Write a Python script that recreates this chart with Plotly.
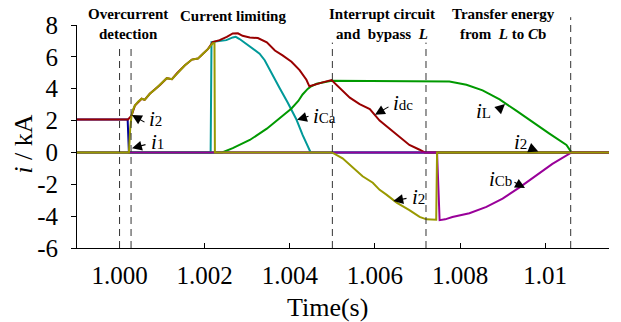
import plotly.graph_objects as go

# ---------------- data (time in s, current in kA) ----------------
t_i1 = [0.999, 1.00019, 1.00022, 1.0115]
v_i1 = [2.07, 2.07, 0.0, 0.0]

t_ca = [0.999, 1.00214, 1.00216, 1.00235, 1.00251, 1.00266, 1.00273, 1.00282, 1.00298,
        1.00313, 1.00329, 1.00341, 1.00357, 1.00376, 1.00395, 1.00415, 1.0043, 1.00447,
        1.00449, 1.0115]
v_ca = [0.0, 0.0, 6.93, 6.97, 7.05, 7.22, 7.26, 7.12, 6.81,
        6.5, 6.2, 5.79, 4.97, 4.05, 3.13, 2.1, 1.1, 0.18,
        0.0, 0.0]

t_L = [0.999, 1.00241, 1.00266, 1.00306, 1.00346, 1.00383, 1.00404, 1.0042, 1.0043,
       1.00442, 1.00449, 1.00463, 1.00477, 1.00498, 1.00775, 1.00815, 1.00853, 1.00893,
       1.00932, 1.0097, 1.0101, 1.0105, 1.01062, 1.0115]
v_L = [0.0, 0.0, 0.27, 0.78, 1.49, 2.31, 2.76, 3.23, 3.64,
       3.99, 4.13, 4.31, 4.4, 4.5, 4.45, 4.25, 3.9, 3.33,
       2.62, 1.9, 1.18, 0.47, 0.0, 0.0]

t_dc = [0.999, 1.0002, 1.00028, 1.00036, 1.00052, 1.00059, 1.00071, 1.00083, 1.00095,
        1.00111, 1.00123, 1.00135, 1.00153, 1.0017, 1.00184, 1.00196, 1.00208, 1.00219,
        1.00235, 1.00252, 1.00266, 1.00278, 1.00289, 1.00306, 1.00325, 1.00346, 1.00365,
        1.00383, 1.00404, 1.00423, 1.00439, 1.00446, 1.00463, 1.00477, 1.00498, 1.00517,
        1.00541, 1.00564, 1.00588, 1.00611, 1.00635, 1.00658, 1.00681, 1.00705, 1.00717,
        1.0115]
v_dc = [2.07, 2.07, 2.3, 2.94, 3.37, 3.3, 3.68, 3.95, 4.23,
        4.66, 4.6, 4.97, 5.46, 5.83, 5.89, 6.2, 6.5, 6.93,
        7.05, 7.26, 7.47, 7.48, 7.32, 7.22, 7.18, 6.91, 6.4,
        6.09, 5.69, 5.17, 4.56, 4.15, 4.31, 4.4, 4.54, 4.05,
        3.44, 3.03, 2.72, 2.0, 1.49, 0.98, 0.47, 0.17, 0.0,
        0.0]

t_cb = [0.999, 1.00746, 1.00752, 1.00765, 1.00782, 1.00822, 1.00862, 1.009, 1.0094,
        1.0098, 1.01017, 1.01062, 1.0115]
v_cb = [0.0, 0.0, -4.25, -4.2, -4.05, -3.82, -3.42, -2.9, -2.19,
        -1.4, -0.72, 0.0, 0.0]

t_i2 = [0.999, 1.00022, 1.00025, 1.00028, 1.00032, 1.00036, 1.00044, 1.00052, 1.00059,
        1.00071, 1.00083, 1.00095, 1.00111, 1.00123, 1.00135, 1.00153, 1.0017, 1.00184,
        1.00196, 1.00208, 1.00219, 1.00223, 1.00224, 1.00499, 1.00524, 1.00547, 1.00571,
        1.00595, 1.00611, 1.00627, 1.00651, 1.00681, 1.00705, 1.00721, 1.00744, 1.00746,
        1.0115]
v_i2 = [0.0, 0.0, 1.5, 2.3, 2.7, 2.94, 3.2, 3.37, 3.3,
        3.68, 3.95, 4.23, 4.66, 4.6, 4.97, 5.46, 5.83, 5.89,
        6.2, 6.5, 6.85, 6.85, 0.0, 0.0, -0.37, -0.95, -1.5,
        -1.9, -2.35, -2.65, -3.15, -3.62, -4.05, -4.2, -4.23, 0.0,
        0.0]

x_ticks = [1.000, 1.002, 1.004, 1.006, 1.008, 1.010]
x_ticktext = ["1.000", "1.002", "1.004", "1.006", "1.008", "1.01"]
y_ticks = [-6, -4, -2, 0, 2, 4, 6, 8]
y_ticktext = ["-6", "-4", "-2", "0", "2", "4", "6", "8"]

stage_lines = [1.0, 1.00027, 1.005, 1.0072, 1.0106]

# ---------------- layout geometry ----------------
W, H = 621, 322
ML, MR, MT, MB = 77, 12, 20, 74
PW, PH = W - ML - MR, H - MT - MB
FONT = "Liberation Serif"


def fx(px):
    return (px - ML) / PW


def fy(py):
    return (H - MB - py) / PH


fig = go.Figure()
series = [
    (t_i1, v_i1, "#000099", "i1"),
    (t_ca, v_ca, "#009999", "iCa"),
    (t_L, v_L, "#009900", "iL"),
    (t_dc, v_dc, "#990000", "idc"),
    (t_cb, v_cb, "#990099", "iCb"),
    (t_i2, v_i2, "#999900", "i2"),
]
for t, v, c, n in series:
    fig.add_trace(go.Scatter(x=t, y=v, mode="lines", name=n,
                             line=dict(color=c, width=2), showlegend=False))

# dashed stage separators
stage_tops = [43, 43, 38, 38, 12]
for xs, top in zip(stage_lines, stage_tops):
    fig.add_shape(type="line", xref="x", yref="paper", x0=xs, x1=xs,
                  y0=0, y1=fy(top),
                  line=dict(color="#333333", width=1, dash="7px,5px"))

ann = []
# stage titles (two lines each, one text block)
titles = [
    ("<b>Overcurrent<br>detection</b>", 128, 18.5),
    ("<b>Current limiting</b>", 233, 10.5),
    ("<b>Interrupt circuit<br>and\u00a0 bypass\u00a0 <i>L</i></b>", 381.5, 18.5),
    ("<b>Transfer energy<br>from\u00a0 <i>L</i> to <i>C</i>b</b>", 503.5, 18.5),
]
for txt, x, y in titles:
    ann.append(dict(text=txt, x=fx(x), y=fy(y), xref="paper", yref="paper",
                    showarrow=False, xanchor="center", yanchor="middle",
                    font=dict(family=FONT, size=15, color="black")))


def lbl(sub):
    return "<i>i</i><span style='font-size:15px'>%s</span>" % sub


labels = [
    ("2", (155, 116), (132, 112), (146, 120)),
    ("1", (157, 140), (132, 146), (147, 142)),
    ("Ca", (324, 113), (297, 117), (310, 113)),
    ("dc", (403, 100), (375, 111.7), (390, 103)),
    ("L", (483, 108), (505, 100.7), (496.7, 108.3)),
    ("2", (520, 140), (538.3, 149.3), (528, 145)),
    ("Cb", (500, 177), (525, 186.7), (513, 180)),
    ("2", (418, 196), (393.3, 200), (408, 197)),
]
for sub, (tx, ty), (hx, hy), (ax, ay) in labels:
    ann.append(dict(text=lbl(sub), x=fx(tx), y=fy(ty), xref="paper", yref="paper",
                    showarrow=False, xanchor="center", yanchor="middle",
                    font=dict(family=FONT, size=21, color="black")))
    ann.append(dict(text="", x=fx(hx), y=fy(hy), xref="paper", yref="paper",
                    showarrow=True, ax=ax - hx, ay=ay - hy,
                    arrowhead=2, arrowsize=1.8, arrowwidth=1.1, arrowcolor="black",
                    standoff=0, startstandoff=0))

# axis titles
ann.append(dict(text="Time(s)", x=fx(327.5), y=fy(309), xref="paper", yref="paper",
                showarrow=False, xanchor="center", yanchor="middle",
                font=dict(family=FONT, size=26, color="black")))
ann.append(dict(text="<i>i</i> / kA", x=fx(24), y=fy(142.5), xref="paper", yref="paper",
                showarrow=False, xanchor="center", yanchor="middle", textangle=-90,
                font=dict(family=FONT, size=26, color="black")))

fig.update_layout(
    width=W, height=H,
    margin=dict(l=ML, r=MR, t=MT, b=MB),
    paper_bgcolor="white", plot_bgcolor="white",
    font=dict(family=FONT, color="black"),
    annotations=ann,
    xaxis=dict(range=[0.999, 1.0115], tickvals=x_ticks, ticktext=x_ticktext,
               ticks="inside", ticklen=5, tickcolor="black", tickwidth=1,
               showline=True, linecolor="black", linewidth=1,
               showgrid=False, zeroline=False,
               tickfont=dict(family=FONT, size=25, color="black"),
               ticklabelstandoff=5),
    yaxis=dict(range=[-6, 8], tickvals=y_ticks, ticktext=y_ticktext,
               ticks="outside", ticklen=5, tickcolor="black", tickwidth=1,
               showline=True, linecolor="black", linewidth=1,
               showgrid=False, zeroline=False,
               tickfont=dict(family=FONT, size=25, color="black"),
               ticklabelstandoff=8),
)

fig.write_html("out.html")
